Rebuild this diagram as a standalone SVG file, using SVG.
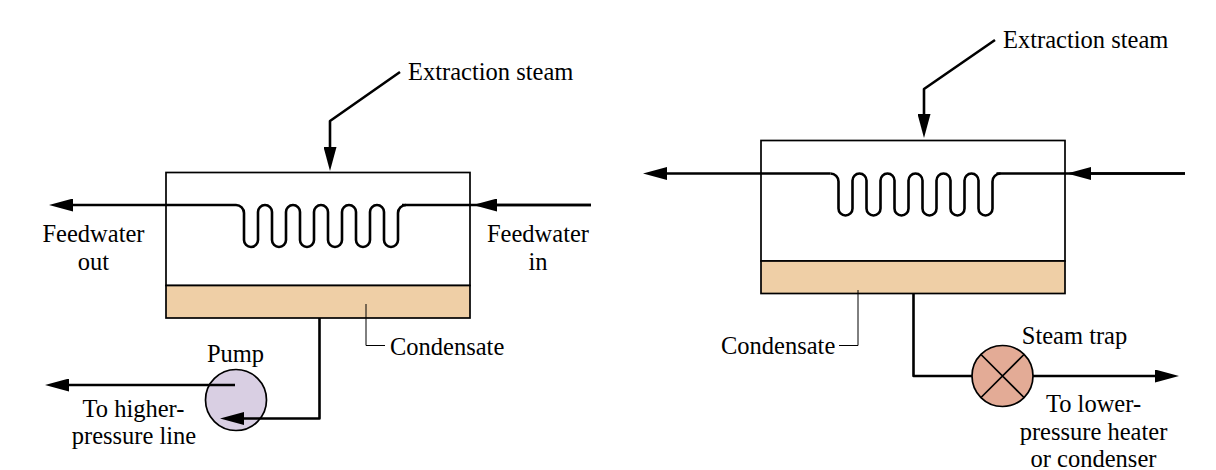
<svg xmlns="http://www.w3.org/2000/svg" width="1216" height="470" viewBox="0 0 1216 470">
<style>
.box{fill:none;stroke:#000;stroke-width:1.7}
.cond{fill:#efcfa6;stroke:#000;stroke-width:1.7}
.pipe{fill:none;stroke:#000;stroke-width:2.6;stroke-linejoin:round}
.arrow{marker-end:url(#head)}
.thin{fill:none;stroke:#000;stroke-width:1}
.edge{stroke:#000;stroke-width:1.7}
text{font-family:"Liberation Serif","Times New Roman",serif;font-size:24.5px;fill:#000;text-anchor:middle}
.s{text-anchor:start}
</style>
<defs>
<marker id="head" markerUnits="userSpaceOnUse" viewBox="0 0 24 13" refX="6" refY="6.500" markerWidth="24" markerHeight="13" orient="auto">
<polygon points="0,0 24,6.500 0,13" fill="#000"/>
</marker>
<path id="coil" class="pipe" d="M0 0a8 8 0 0 1 8 8V35a7 7 0 0 0 14 0V7a7 7 0 0 1 14 0V35a7 7 0 0 0 14 0V7a7 7 0 0 1 14 0V35a7 7 0 0 0 14 0V7a7 7 0 0 1 14 0V35a7 7 0 0 0 14 0V7a7 7 0 0 1 14 0V35a7 7 0 0 0 14 0V7a7 7 0 0 1 14 0V35a7 7 0 0 0 14 0V8a8 8 0 0 1 8-8"/>
</defs>
<g id="feedwater-heater-left">
<rect class="box" x="166" y="172.500" width="304" height="113"/>
<rect class="cond" x="166" y="285.500" width="304" height="32.500"/>
</g>
<g id="pump">
<circle class="edge" cx="236" cy="400" r="30.500" fill="#d9cfe3"/>
</g>
<g id="feedwater-heater-right">
<rect class="box" x="761" y="140.500" width="304" height="120.500"/>
<rect class="cond" x="761" y="261" width="304" height="32.500"/>
</g>
<g id="steam-trap">
<circle class="edge" cx="1002.500" cy="376" r="30.500" fill="#e3ab96"/>
<path class="edge" fill="none" d="M981 354.500L1024 397.500M1024 354.500L981 397.500"/>
</g>
<g id="connectors">
<path class="pipe arrow" d="M400 72L330 121V153"/>
<path class="pipe arrow" d="M236 205H67"/>
<use href="#coil" x="236" y="205"/>
<path class="pipe" d="M402 205H591"/>
<path class="pipe arrow" d="M591 205H491"/>
<path class="pipe arrow" d="M319.500 318V418.500H238"/>
<path class="pipe arrow" d="M235 385H63"/>
<path class="pipe arrow" d="M995 40L924 89V120"/>
<path class="pipe arrow" d="M830.500 173.500H661"/>
<use href="#coil" x="830.500" y="173.500"/>
<path class="pipe" d="M996.500 173.500H1185"/>
<path class="pipe arrow" d="M1185 173.500H1085"/>
<path class="pipe" d="M913.500 293V376H972"/>
<path class="pipe arrow" d="M1033 376H1161"/>
<path class="thin" d="M366 304V345.500H385"/>
<path class="thin" d="M858 290V345.500H839"/>
</g>
<g id="labels">
<text class="s" x="408" y="79.500">Extraction steam</text>
<text x="93.500" y="242">Feedwater</text>
<text x="93.500" y="269.500">out</text>
<text x="538" y="242">Feedwater</text>
<text x="538" y="269.500">in</text>
<text class="s" x="390" y="354.500">Condensate</text>
<text x="235.500" y="361.500">Pump</text>
<text x="133.500" y="416.500">To higher-</text>
<text x="134" y="443.500">pressure line</text>
<text class="s" x="1003" y="47.500">Extraction steam</text>
<text class="s" x="721" y="353.500">Condensate</text>
<text x="1074.500" y="343.500">Steam trap</text>
<text x="1093.500" y="411.500">To lower-</text>
<text x="1093.500" y="439.500">pressure heater</text>
<text x="1093.500" y="466.500">or condenser</text>
</g>
</svg>
